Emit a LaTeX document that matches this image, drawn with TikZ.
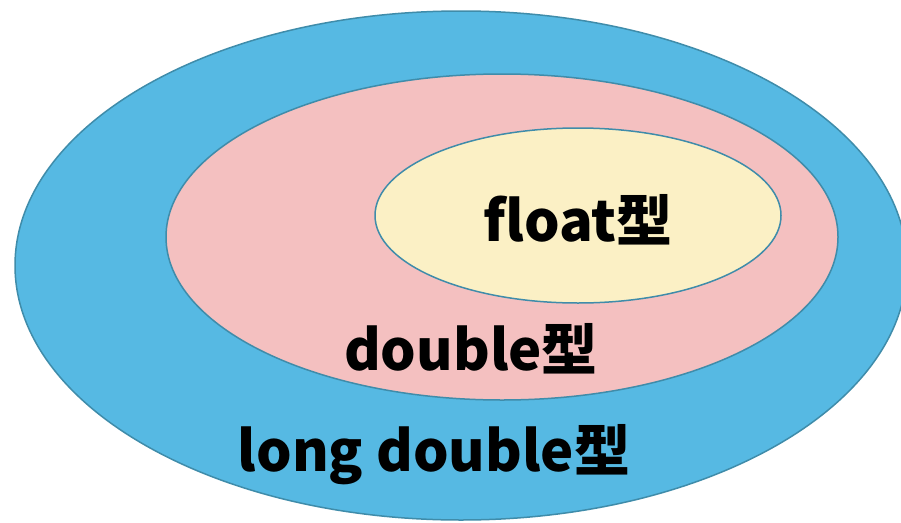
\documentclass[tikz,border=0pt]{standalone}
\usepackage{fontspec}
\newfontfamily\jpfont{Noto Sans CJK JP}
\usetikzlibrary{shapes.geometric}
\definecolor{outerblue}{HTML}{56B9E3}
\definecolor{midpink}{HTML}{F4C0C0}
\definecolor{inneryellow}{HTML}{FBF0C5}
\definecolor{rimblue}{HTML}{3F8CAA}
\begin{document}
\begin{tikzpicture}[
    x=1pt, y=-1pt,
    set/.style={ellipse, draw=rimblue, line width=1.5pt, inner sep=0pt},
    label/.style={font=\jpfont\bfseries\fontsize{56}{60}\selectfont, inner sep=0pt}
]
    \clip (0,0) rectangle (901,522);
    \fill[white] (0,0) rectangle (901,522);

    % Mengen als Ellipsen, von aussen nach innen
    \node[set, fill=outerblue, minimum width=892pt, minimum height=509pt] (longdbl) at (461,265.5) {};
    \node[set, fill=midpink, minimum width=672pt, minimum height=326pt] (dbl) at (502,237) {};
    \node[set, fill=inneryellow, minimum width=406pt, minimum height=175pt] (flt) at (578,215.5) {};

    % Beschriftungen
    \node[label] (fltlabel) at (578,220) {float型};
    \node[label] (dbllabel) at (471,349) {double型};
    \node[label] (longdbllabel) at (434,455) {long double型};
\end{tikzpicture}
\end{document}
